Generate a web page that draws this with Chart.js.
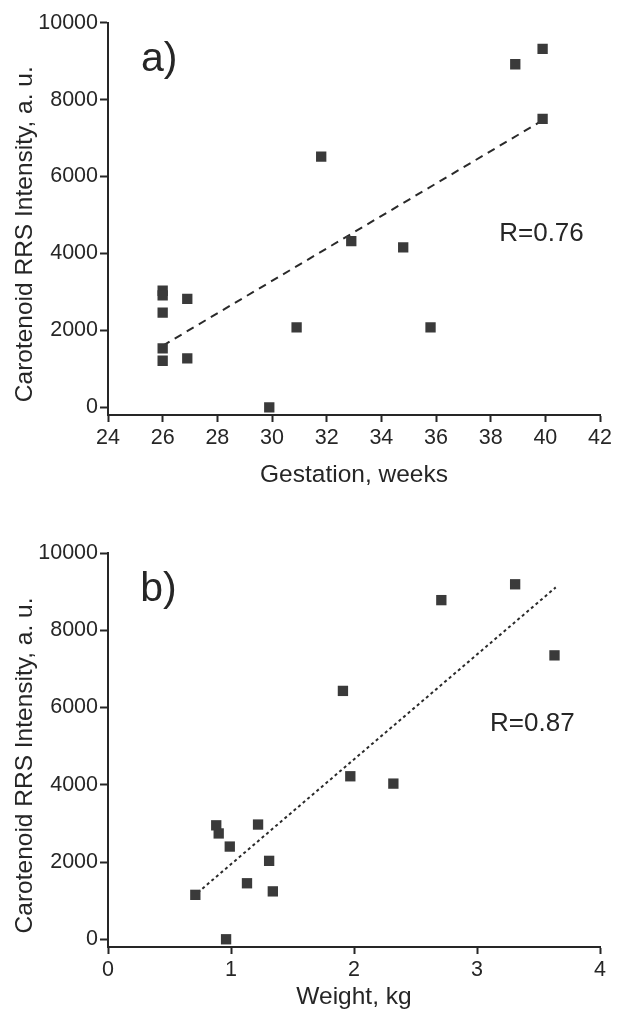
<!DOCTYPE html>
<html>
<head>
<meta charset="utf-8">
<script src="https://cdn.jsdelivr.net/npm/chart.js@4.4.1/dist/chart.umd.min.js"></script>
<style>
  html, body { margin: 0; padding: 0; background: #fff; }
  .box { position: relative; width: 624px; height: 515px; }
</style>
</head>
<body>
<div class="box"><canvas id="chartA"></canvas></div>
<div class="box"><canvas id="chartB"></canvas></div>
<script>
// panel a) gestation (weeks) vs carotenoid RRS intensity
const gestationWeeks = [26, 26, 26, 26, 26, 26.9, 26.9, 29.9, 30.9, 31.8, 32.9, 34.8, 35.8, 38.9, 39.9, 39.9];
const intensityA     = [3030, 2910, 2460, 1530, 1210, 2820, 1270, 0, 2080, 6520, 4320, 4160, 2080, 8920, 9320, 7500];
const fitA_x = [26, 39.8];
const fitA_y = [1600, 7420];

// panel b) weight (kg) vs carotenoid RRS intensity
const weightKg   = [0.71, 0.88, 0.9, 0.99, 0.96, 1.13, 1.22, 1.31, 1.34, 1.91, 1.97, 2.32, 2.71, 3.31, 3.63];
const intensityB = [1150, 2950, 2740, 2400, 0, 1450, 2970, 2030, 1240, 6430, 4220, 4030, 8780, 9190, 7350];
const fitB_x = [0.73, 3.64];
const fitB_y = [1210, 9110];

// tick labels
const yTicks  = [0, 2000, 4000, 6000, 8000, 10000];
const xTicksA = [24, 26, 28, 30, 32, 34, 36, 38, 40, 42];
const xTicksB = [0, 1, 2, 3, 4];

const FONT = '"Liberation Sans", Arial, sans-serif';
const INK = '#262626';
const MARK = '#3a3a3a';

const toPoints = (xs, ys) => xs.map((v, i) => ({ x: v, y: ys[i] }));

// extra texts: panel letter, R value, rotated y title
const notesPlugin = {
  id: 'notes',
  afterDraw(chart, args, o) {
    const { ctx, scales: { x, y } } = chart;
    ctx.save();
    ctx.fillStyle = INK;
    ctx.textAlign = 'center';
    ctx.textBaseline = 'middle';
    ctx.font = '41px ' + FONT;
    ctx.fillText(o.panel, x.getPixelForValue(o.panelAt[0]), y.getPixelForValue(o.panelAt[1]));
    ctx.font = '26px ' + FONT;
    ctx.fillText(o.rText, x.getPixelForValue(o.rAt[0]), y.getPixelForValue(o.rAt[1]));
    ctx.font = '24.5px ' + FONT;
    ctx.translate(o.yTitleX, y.getPixelForValue(o.yTitleAt));
    ctx.rotate(-Math.PI / 2);
    ctx.fillText('Carotenoid RRS Intensity, a. u.', 0, 0);
    ctx.restore();
  }
};

function makeChart(id, cfg) {
  const ctx = document.getElementById(id).getContext('2d');
  return new Chart(ctx, {
    type: 'scatter',
    data: {
      datasets: [
        {
          data: toPoints(cfg.xs, cfg.ys),
          pointStyle: 'rect',
          pointRadius: 7.3,
          pointHoverRadius: 7.3,
          backgroundColor: MARK,
          borderColor: MARK,
          borderWidth: 0
        },
        {
          data: toPoints(cfg.fitX, cfg.fitY),
          showLine: true,
          pointRadius: 0,
          borderColor: '#2a2a2a',
          borderWidth: 2,
          borderDash: cfg.dash,
          fill: false
        }
      ]
    },
    options: {
      responsive: true,
      maintainAspectRatio: false,
      animation: false,
      layout: { padding: { left: 0, right: 24, top: cfg.top, bottom: 0 } },
      plugins: {
        legend: { display: false },
        tooltip: { enabled: false },
        notes: cfg.notes
      },
      scales: {
        x: {
          type: 'linear',
          min: cfg.xMin,
          max: cfg.xMax,
          afterBuildTicks: s => { s.ticks = cfg.xTicks.map(v => ({ value: v })); },
          afterFit: s => { s.height = cfg.xHeight; },
          ticks: {
            color: INK,
            padding: 3,
            font: { family: FONT, size: 21.5 },
            callback: v => String(v)
          },
          grid: { display: true, drawOnChartArea: false, drawTicks: true, tickLength: 7, tickWidth: 2, color: INK },
          border: { display: true, color: INK, width: 2 },
          title: {
            display: true,
            text: cfg.xTitle,
            color: INK,
            font: { family: FONT, size: 24.5 },
            padding: { top: 0, bottom: cfg.xTitlePad }
          }
        },
        y: {
          type: 'linear',
          min: -200,
          max: 10000,
          afterBuildTicks: s => { s.ticks = yTicks.map(v => ({ value: v })); },
          afterFit: s => { s.width = 108; },
          ticks: {
            color: INK,
            padding: 2,
            font: { family: FONT, size: 21.5 },
            callback: v => String(v)
          },
          grid: { display: true, drawOnChartArea: false, drawTicks: true, tickLength: 8, tickWidth: 2, color: INK },
          border: { display: true, color: INK, width: 2 }
        }
      }
    },
    plugins: [notesPlugin]
  });
}

makeChart('chartA', {
  xs: gestationWeeks, ys: intensityA, fitX: fitA_x, fitY: fitA_y,
  dash: [8, 6], top: 22.7, xHeight: 100, xTitlePad: 25,
  xMin: 24, xMax: 42, xTicks: xTicksA, xTitle: 'Gestation, weeks',
  notes: { panel: 'a)', panelAt: [25.87, 9050], rText: 'R=0.76', rAt: [39.86, 4500], yTitleX: 25, yTitleAt: 4500 }
});

makeChart('chartB', {
  xs: weightKg, ys: intensityB, fitX: fitB_x, fitY: fitB_y,
  dash: [3, 3], top: 38, xHeight: 83, xTitlePad: 18,
  xMin: 0, xMax: 4, xTicks: xTicksB, xTitle: 'Weight, kg',
  notes: { panel: 'b)', panelAt: [0.41, 9040], rText: 'R=0.87', rAt: [3.45, 5580], yTitleX: 25, yTitleAt: 4500 }
});
</script>
</body>
</html>
